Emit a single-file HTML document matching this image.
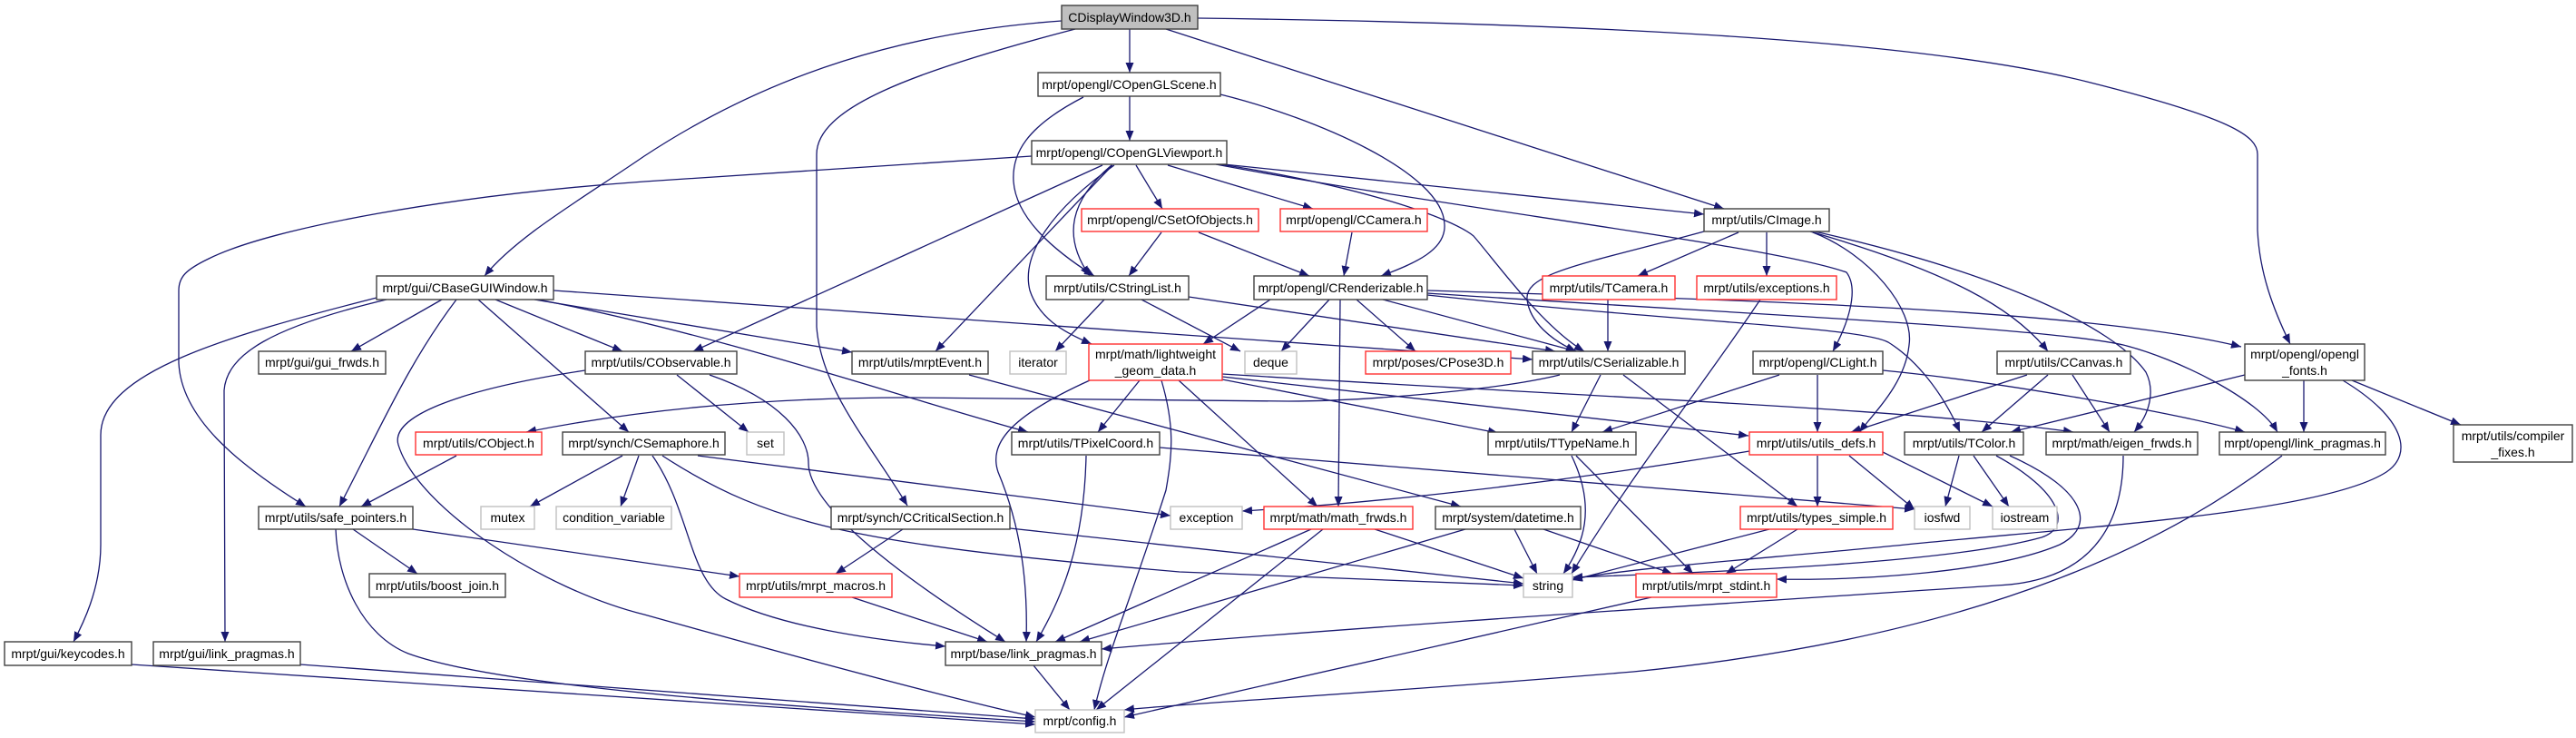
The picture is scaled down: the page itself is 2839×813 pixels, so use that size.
<!DOCTYPE html>
<html><head><meta charset="utf-8"><style>
html,body{margin:0;padding:0;background:#fff}
svg{display:block}
text{font-family:"Liberation Sans",Arial,sans-serif;font-size:14px;fill:#000}
.b{fill:#fff;stroke:#404040;stroke-width:1.4}
.r{fill:#fff;stroke:#ff3030;stroke-width:1.4}
.g{fill:#fff;stroke:#c0c0c0;stroke-width:1.4}
.e{fill:none;stroke:#191970;stroke-width:1.3;marker-end:url(#a)}
</style></head><body>
<svg width="2839" height="813" viewBox="0 0 2839 813" xmlns="http://www.w3.org/2000/svg">
<defs><marker id="a" markerUnits="userSpaceOnUse" markerWidth="11" markerHeight="9" refX="11" refY="4.5" orient="auto"><path d="M0,0 L11,4.5 L0,9 z" fill="#191970"/></marker></defs>
<g>
<path class="e" d="M1245,32 L1245,80"/>
<path class="e" d="M1170,23 C1000,35 850,80 710,172 C640,220 570,260 534,304"/>
<path class="e" d="M1185,32 C1000,80 900,120 900,170 L900,360 C905,430 960,490 1000,557"/>
<path class="e" d="M1285,32 L1900,230"/>
<path class="e" d="M1320,20 C1700,25 2100,40 2300,90 C2460,130 2488,150 2488,170 L2488,253 C2490,300 2505,340 2524,379"/>
<path class="e" d="M1245,106 L1245,155"/>
<path class="e" d="M1194,107 C1130,140 1115,170 1117,200 C1120,240 1160,275 1206,304"/>
<path class="e" d="M1345,104 C1450,130 1590,190 1592,247 C1594,275 1560,290 1522,304"/>
<path class="e" d="M1137,172 L710,200 C500,215 300,250 230,285 C205,297 197,305 197,320 L197,400 C200,460 260,510 337,558"/>
<path class="e" d="M1215,182 L764,387"/>
<path class="e" d="M1226,182 L1031,387"/>
<path class="e" d="M1225,182 C1180,220 1170,260 1201,304"/>
<path class="e" d="M1228,182 C1160,230 1125,280 1135,320 C1145,350 1170,365 1203,379"/>
<path class="e" d="M1252,182 L1281,230"/>
<path class="e" d="M1287,182 L1447,230"/>
<path class="e" d="M1339,180 L1878,236"/>
<path class="e" d="M1345,181 C1500,205 1600,240 1624,260 C1650,290 1700,360 1746,387"/>
<path class="e" d="M1340,181 C1600,230 1950,270 2035,300 C2050,320 2035,360 2020,387"/>
<path class="e" d="M1280,256 L1244,304"/>
<path class="e" d="M1321,256 L1443,304"/>
<path class="e" d="M1490,256 L1481,304"/>
<path class="e" d="M1217,330 L1163,387"/>
<path class="e" d="M1258,330 L1367,387"/>
<path class="e" d="M1310,327 L1714,387"/>
<path class="e" d="M1400,330 L1326,379"/>
<path class="e" d="M1465,330 L1412,387"/>
<path class="e" d="M1477,330 L1475,558"/>
<path class="e" d="M1495,330 L1560,387"/>
<path class="e" d="M1524,330 L1737,387"/>
<path class="e" d="M1573,320 C1900,330 2300,340 2470,382"/>
<path class="e" d="M1573,323 C1900,345 2250,360 2340,380 C2400,395 2490,440 2510,476"/>
<path class="e" d="M1573,325 C1850,355 2050,360 2081,377 C2110,395 2140,430 2160,476"/>
<path class="e" d="M1878,255 C1750,290 1680,300 1683,330 C1686,355 1710,375 1737,387"/>
<path class="e" d="M1916,256 L1805,304"/>
<path class="e" d="M1947,256 L1947,304"/>
<path class="e" d="M1995,255 C2150,300 2220,340 2257,387"/>
<path class="e" d="M1998,256 C2060,280 2110,340 2104,380 C2100,420 2070,450 2049,476"/>
<path class="e" d="M2000,255 C2200,300 2330,360 2365,410 C2375,430 2370,455 2352,476"/>
<path class="e" d="M1772,330 L1772,387"/>
<path class="e" d="M1940,330 C1880,420 1800,520 1732,632"/>
<path class="e" d="M1961,413 L1766,476"/>
<path class="e" d="M2003,413 L2003,476"/>
<path class="e" d="M2075,408 C2200,420 2400,455 2474,476"/>
<path class="e" d="M1764,413 L1732,476"/>
<path class="e" d="M1789,413 L1981,558"/>
<path class="e" d="M1719,413 C1650,430 1500,442 1420,442 L1000,438 C850,438 710,450 580,476"/>
<path class="e" d="M2257,413 L2184,476"/>
<path class="e" d="M2284,413 L2325,476"/>
<path class="e" d="M2234,413 L2040,476"/>
<path class="e" d="M2474,413 L2216,476"/>
<path class="e" d="M2539,419 L2539,476"/>
<path class="e" d="M2592,419 L2712,468"/>
<path class="e" d="M2582,419 C2650,460 2660,500 2630,520 C2560,565 2300,580 2100,600 C1950,615 1800,625 1733,638"/>
<path class="e" d="M2159,502 L2144,558"/>
<path class="e" d="M2175,502 L2214,558"/>
<path class="e" d="M2200,502 C2270,540 2285,580 2250,592 C2150,620 1900,630 1733,636"/>
<path class="e" d="M2215,502 C2300,540 2310,580 2270,600 C2200,630 2050,640 1958,638"/>
<path class="e" d="M2340,502 C2340,560 2320,640 2200,645 C1900,665 1500,690 1214,715"/>
<path class="e" d="M2515,502 C2400,590 2200,700 1800,740 C1500,765 1300,775 1239,782"/>
<path class="e" d="M1928,497 C1700,535 1500,555 1369,563"/>
<path class="e" d="M2003,502 L2003,558"/>
<path class="e" d="M2038,502 L2110,561"/>
<path class="e" d="M2075,498 L2196,558"/>
<path class="e" d="M1732,502 C1760,560 1745,600 1723,632"/>
<path class="e" d="M1737,502 L1866,632"/>
<path class="e" d="M1950,583 L1733,639"/>
<path class="e" d="M1981,583 L1902,632"/>
<path class="e" d="M1669,583 L1694,632"/>
<path class="e" d="M1701,583 L1843,632"/>
<path class="e" d="M1615,583 L1190,707"/>
<path class="e" d="M1515,583 L1679,637"/>
<path class="e" d="M1445,583 L1163,707"/>
<path class="e" d="M1458,583 L1208,782"/>
<path class="e" d="M1820,658 L1239,790"/>
<path class="e" d="M1201,419 C1110,460 1090,490 1100,520 C1125,580 1133,640 1131,707"/>
<path class="e" d="M1256,419 L1210,476"/>
<path class="e" d="M1280,419 C1295,470 1292,500 1285,540 C1250,650 1220,720 1206,782"/>
<path class="e" d="M1299,419 L1452,558"/>
<path class="e" d="M1347,418 L1651,477"/>
<path class="e" d="M1347,415 L1927,480"/>
<path class="e" d="M1347,412 C1800,440 2100,450 2285,476"/>
<path class="e" d="M1197,502 C1195,600 1170,660 1142,707"/>
<path class="e" d="M1278,493 L2110,561"/>
<path class="e" d="M995,583 L921,632"/>
<path class="e" d="M1113,582 L1679,643"/>
<path class="e" d="M939,658 L1088,707"/>
<path class="e" d="M1139,733 L1179,782"/>
<path class="e" d="M769,502 L1290,568"/>
<path class="e" d="M686,502 L584,558"/>
<path class="e" d="M704,502 L684,558"/>
<path class="e" d="M719,502 C760,560 760,640 800,660 C860,690 960,705 1042,712"/>
<path class="e" d="M730,502 C850,580 950,600 1300,630 L1679,645"/>
<path class="e" d="M746,413 L825,476"/>
<path class="e" d="M782,413 C860,440 891,480 891,510 C891,560 1000,640 1108,707"/>
<path class="e" d="M645,408 C500,430 430,460 439,490 C460,560 600,650 710,677 C900,730 1050,770 1141,790"/>
<path class="e" d="M503,502 L398,558"/>
<path class="e" d="M389,583 L460,632"/>
<path class="e" d="M455,583 L815,635"/>
<path class="e" d="M370,583 C372,640 400,700 450,720 C560,760 900,780 1141,795"/>
<path class="e" d="M145,732 L1141,798"/>
<path class="e" d="M331,732 L1141,792"/>
<path class="e" d="M487,330 L387,387"/>
<path class="e" d="M415,328 C250,370 110,410 111,480 L111,600 C111,650 90,690 81,707"/>
<path class="e" d="M426,330 C300,360 250,390 247,430 L248,707"/>
<path class="e" d="M503,330 C450,400 420,470 374,558"/>
<path class="e" d="M527,330 L693,476"/>
<path class="e" d="M546,330 L686,387"/>
<path class="e" d="M589,330 L939,388"/>
<path class="e" d="M610,320 L1689,396"/>
<path class="e" d="M593,330 C800,370 1000,440 1133,476"/>
<path class="e" d="M1068,413 L1610,558"/>
</g>
<g text-anchor="middle">
<rect x="1170" y="6" width="150" height="26" style="fill:#bfbfbf;stroke:#404040;stroke-width:1.4"/><text x="1245" y="24">CDisplayWindow3D.h</text>
<rect class="b" x="1144" y="80" width="201" height="26"/><text x="1244.5" y="98">mrpt/opengl/COpenGLScene.h</text>
<rect class="b" x="1137" y="155" width="215" height="26"/><text x="1244.5" y="173">mrpt/opengl/COpenGLViewport.h</text>
<rect class="r" x="1192" y="230" width="195" height="25"/><text x="1289.5" y="247">mrpt/opengl/CSetOfObjects.h</text>
<rect class="r" x="1411" y="230" width="162" height="25"/><text x="1492" y="247">mrpt/opengl/CCamera.h</text>
<rect class="b" x="1878" y="230" width="138" height="25"/><text x="1947" y="247">mrpt/utils/CImage.h</text>
<rect class="b" x="415" y="304" width="195" height="26"/><text x="512.5" y="322">mrpt/gui/CBaseGUIWindow.h</text>
<rect class="b" x="1153" y="304" width="157" height="26"/><text x="1231.5" y="322">mrpt/utils/CStringList.h</text>
<rect class="b" x="1382" y="304" width="191" height="26"/><text x="1477.5" y="322">mrpt/opengl/CRenderizable.h</text>
<rect class="r" x="1700" y="304" width="146" height="26"/><text x="1773" y="322">mrpt/utils/TCamera.h</text>
<rect class="r" x="1870" y="304" width="154" height="26"/><text x="1947" y="322">mrpt/utils/exceptions.h</text>
<rect class="b" x="285" y="387" width="140" height="25"/><text x="355" y="404">mrpt/gui/gui_frwds.h</text>
<rect class="b" x="645" y="387" width="167" height="25"/><text x="728.5" y="404">mrpt/utils/CObservable.h</text>
<rect class="b" x="939" y="387" width="150" height="25"/><text x="1014" y="404">mrpt/utils/mrptEvent.h</text>
<rect class="g" x="1113" y="387" width="62" height="25"/><text x="1144" y="404">iterator</text>
<rect class="r" x="1200" y="379" width="147" height="40"/><text x="1273.5" y="395">mrpt/math/lightweight</text><text x="1273.5" y="413">_geom_data.h</text>
<rect class="g" x="1372" y="387" width="57" height="25"/><text x="1400.5" y="404">deque</text>
<rect class="r" x="1505" y="387" width="160" height="25"/><text x="1585" y="404">mrpt/poses/CPose3D.h</text>
<rect class="b" x="1689" y="387" width="168" height="25"/><text x="1773" y="404">mrpt/utils/CSerializable.h</text>
<rect class="b" x="1932" y="387" width="143" height="25"/><text x="2003.5" y="404">mrpt/opengl/CLight.h</text>
<rect class="b" x="2201" y="387" width="147" height="25"/><text x="2274.5" y="404">mrpt/utils/CCanvas.h</text>
<rect class="b" x="2474" y="379" width="132" height="40"/><text x="2540" y="395">mrpt/opengl/opengl</text><text x="2540" y="413">_fonts.h</text>
<rect class="r" x="458" y="476" width="139" height="25"/><text x="527.5" y="493">mrpt/utils/CObject.h</text>
<rect class="b" x="620" y="476" width="179" height="25"/><text x="709.5" y="493">mrpt/synch/CSemaphore.h</text>
<rect class="g" x="823" y="476" width="41" height="25"/><text x="843.5" y="493">set</text>
<rect class="b" x="1115" y="476" width="163" height="25"/><text x="1196.5" y="493">mrpt/utils/TPixelCoord.h</text>
<rect class="b" x="1640" y="476" width="163" height="25"/><text x="1721.5" y="493">mrpt/utils/TTypeName.h</text>
<rect class="r" x="1928" y="476" width="147" height="25"/><text x="2001.5" y="493">mrpt/utils/utils_defs.h</text>
<rect class="b" x="2099" y="476" width="131" height="25"/><text x="2164.5" y="493">mrpt/utils/TColor.h</text>
<rect class="b" x="2255" y="476" width="167" height="25"/><text x="2338.5" y="493">mrpt/math/eigen_frwds.h</text>
<rect class="b" x="2446" y="476" width="183" height="25"/><text x="2537.5" y="493">mrpt/opengl/link_pragmas.h</text>
<rect class="b" x="2704" y="468" width="131" height="41"/><text x="2769.5" y="485">mrpt/utils/compiler</text><text x="2769.5" y="503">_fixes.h</text>
<rect class="b" x="285" y="558" width="170" height="25"/><text x="370" y="575">mrpt/utils/safe_pointers.h</text>
<rect class="g" x="530" y="558" width="59" height="25"/><text x="559.5" y="575">mutex</text>
<rect class="g" x="613" y="558" width="127" height="25"/><text x="676.5" y="575">condition_variable</text>
<rect class="b" x="916" y="558" width="197" height="25"/><text x="1014.5" y="575">mrpt/synch/CCriticalSection.h</text>
<rect class="g" x="1290" y="558" width="79" height="25"/><text x="1329.5" y="575">exception</text>
<rect class="r" x="1393" y="558" width="164" height="25"/><text x="1475" y="575">mrpt/math/math_frwds.h</text>
<rect class="b" x="1582" y="558" width="160" height="25"/><text x="1662" y="575">mrpt/system/datetime.h</text>
<rect class="r" x="1918" y="558" width="168" height="25"/><text x="2002" y="575">mrpt/utils/types_simple.h</text>
<rect class="g" x="2110" y="558" width="61" height="25"/><text x="2140.5" y="575">iosfwd</text>
<rect class="g" x="2196" y="558" width="71" height="25"/><text x="2231.5" y="575">iostream</text>
<rect class="b" x="407" y="632" width="150" height="26"/><text x="482" y="650">mrpt/utils/boost_join.h</text>
<rect class="r" x="815" y="632" width="168" height="26"/><text x="899" y="650">mrpt/utils/mrpt_macros.h</text>
<rect class="g" x="1679" y="632" width="54" height="26"/><text x="1706" y="650">string</text>
<rect class="r" x="1803" y="632" width="155" height="26"/><text x="1880.5" y="650">mrpt/utils/mrpt_stdint.h</text>
<rect class="b" x="5" y="707" width="140" height="26"/><text x="75" y="725">mrpt/gui/keycodes.h</text>
<rect class="b" x="169" y="707" width="162" height="26"/><text x="250" y="725">mrpt/gui/link_pragmas.h</text>
<rect class="b" x="1042" y="707" width="172" height="26"/><text x="1128" y="725">mrpt/base/link_pragmas.h</text>
<rect class="g" x="1141" y="782" width="98" height="25"/><text x="1190" y="799">mrpt/config.h</text>
</g>
</svg>
</body></html>
